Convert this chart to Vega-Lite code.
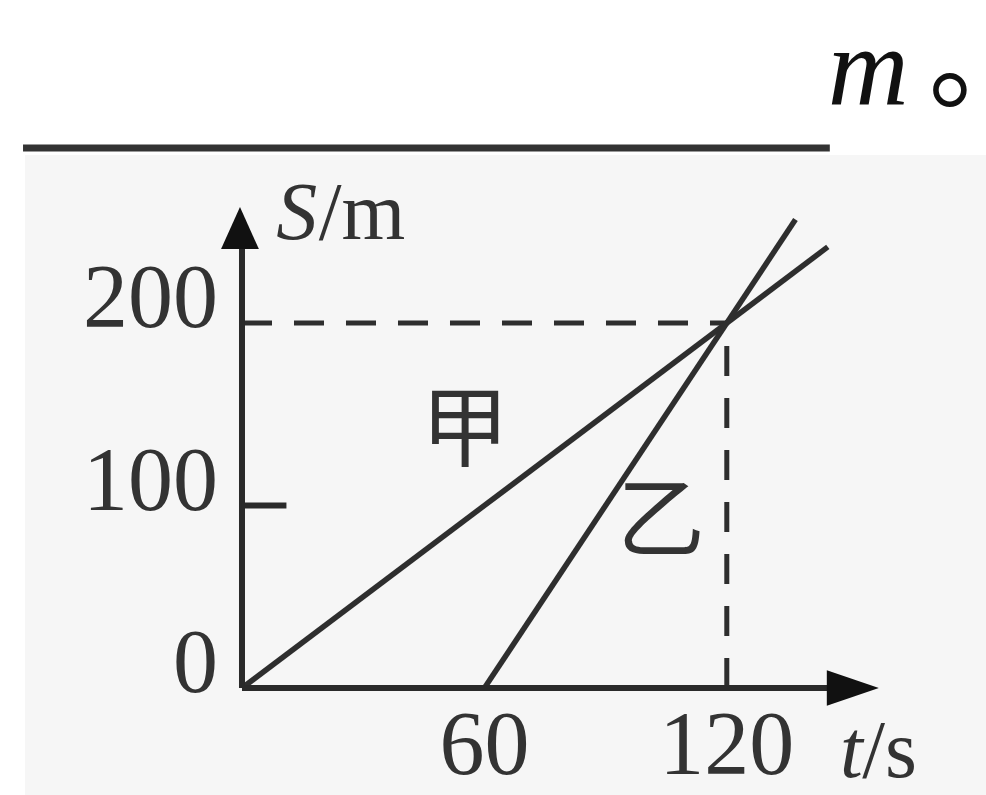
{
  "$schema": "https://vega.github.io/schema/vega-lite/v6.json",
  "width": 986,
  "height": 795,
  "padding": 0,
  "autosize": {"type": "none"},
  "background": "#ffffff",
  "config": {"view": {"stroke": null}},
  "datasets": {
    "motion": [
      {"series": "甲", "t": 0, "s": 0},
      {"series": "甲", "t": 145, "s": 241.7},
      {"series": "乙", "t": 60, "s": 0},
      {"series": "乙", "t": 137, "s": 256.7}
    ],
    "panel": [{"t0": -53.7, "t1": 184.2, "s0": -58.6, "s1": 292}],
    "blank": [{"t0": -54.2, "t1": 145.5, "s0": 295.9, "s1": 295.9}],
    "guides": [
      {"t0": 0, "t1": 120, "s0": 200, "s1": 200},
      {"t0": 120, "t1": 120, "s0": 0, "s1": 200}
    ],
    "frame": [
      {"t0": 0, "t1": 0, "s0": 0, "s1": 250},
      {"t0": 0, "t1": 150, "s0": 0, "s1": 0},
      {"t0": 0, "t1": 11, "s0": 100, "s1": 100}
    ],
    "arrowS": [{"t": -0.5, "s": 252}],
    "arrowT": [{"t": 151.2, "s": 0}],
    "sTicks": [{"s": 0, "t": 0, "label": "0"}, {"s": 100, "t": 0, "label": "100"}, {"s": 200, "t": 0, "label": "200"}],
    "tTicks": [{"t": 60, "s": 0, "label": "60"}, {"t": 120, "s": 0, "label": "120"}],
    "italicTitles": [
      {"label": "S", "t": 8.5, "s": 246},
      {"label": "t", "t": 148, "s": -49}
    ],
    "plainTitles": [
      {"label": "/m", "t": 19, "s": 246},
      {"label": "/s", "t": 153.5, "s": -49}
    ],
    "names": [
      {"label": "甲", "t": 55.2, "s": 139.5},
      {"label": "乙", "t": 103.7, "s": 90}
    ],
    "unitM": [{"label": "m", "t": 145, "s": 319.5}],
    "stop": [{"label": "。", "t": 169.9, "s": 322.2}]
  },
  "layer": [
    {
      "data": {"name": "panel"},
      "mark": {"type": "rect", "color": "#f6f6f6"},
      "encoding": {
        "x": {"field": "t0", "type": "quantitative", "axis": null, "scale": {"domain": [-59.9, 184.16], "nice": false, "zero": false}},
        "x2": {"field": "t1"},
        "y": {"field": "s0", "type": "quantitative", "axis": null, "scale": {"domain": [-58.63, 376.99], "nice": false, "zero": false}},
        "y2": {"field": "s1"}
      }
    },
    {
      "data": {"name": "blank"},
      "mark": {"type": "rule", "color": "#333333", "strokeWidth": 7},
      "encoding": {
        "x": {"field": "t0", "type": "quantitative", "axis": null, "scale": {"domain": [-59.9, 184.16], "nice": false, "zero": false}},
        "x2": {"field": "t1"},
        "y": {"field": "s0", "type": "quantitative", "axis": null, "scale": {"domain": [-58.63, 376.99], "nice": false, "zero": false}},
        "y2": {"field": "s1"}
      }
    },
    {
      "data": {"name": "unitM"},
      "mark": {"type": "text", "font": "Liberation Serif", "fontStyle": "italic", "fontSize": 112, "align": "left", "baseline": "alphabetic", "color": "#111111"},
      "encoding": {
        "x": {"field": "t", "type": "quantitative", "axis": null, "scale": {"domain": [-59.9, 184.16], "nice": false, "zero": false}},
        "y": {"field": "s", "type": "quantitative", "axis": null, "scale": {"domain": [-58.63, 376.99], "nice": false, "zero": false}},
        "text": {"field": "label", "type": "nominal"}
      }
    },
    {
      "data": {"name": "stop"},
      "mark": {"type": "text", "font": "Noto Sans CJK SC", "fontSize": 110, "align": "left", "baseline": "alphabetic", "color": "#111111"},
      "encoding": {
        "x": {"field": "t", "type": "quantitative", "axis": null, "scale": {"domain": [-59.9, 184.16], "nice": false, "zero": false}},
        "y": {"field": "s", "type": "quantitative", "axis": null, "scale": {"domain": [-58.63, 376.99], "nice": false, "zero": false}},
        "text": {"field": "label", "type": "nominal"}
      }
    },
    {
      "data": {"name": "guides"},
      "mark": {"type": "rule", "color": "#2e2e2e", "strokeWidth": 5, "strokeDash": [30, 22]},
      "encoding": {
        "x": {"field": "t0", "type": "quantitative", "axis": null, "scale": {"domain": [-59.9, 184.16], "nice": false, "zero": false}},
        "x2": {"field": "t1"},
        "y": {"field": "s0", "type": "quantitative", "axis": null, "scale": {"domain": [-58.63, 376.99], "nice": false, "zero": false}},
        "y2": {"field": "s1"}
      }
    },
    {
      "data": {"name": "motion"},
      "mark": {"type": "line", "color": "#2e2e2e", "strokeWidth": 5.5},
      "encoding": {
        "x": {"field": "t", "type": "quantitative", "axis": null, "scale": {"domain": [-59.9, 184.16], "nice": false, "zero": false}},
        "y": {"field": "s", "type": "quantitative", "axis": null, "scale": {"domain": [-58.63, 376.99], "nice": false, "zero": false}},
        "detail": {"field": "series", "type": "nominal"}
      }
    },
    {
      "data": {"name": "frame"},
      "mark": {"type": "rule", "color": "#2a2a2a", "strokeWidth": 6},
      "encoding": {
        "x": {"field": "t0", "type": "quantitative", "axis": null, "scale": {"domain": [-59.9, 184.16], "nice": false, "zero": false}},
        "x2": {"field": "t1"},
        "y": {"field": "s0", "type": "quantitative", "axis": null, "scale": {"domain": [-58.63, 376.99], "nice": false, "zero": false}},
        "y2": {"field": "s1"}
      }
    },
    {
      "data": {"name": "arrowS"},
      "mark": {"type": "point", "shape": "M0,-1L0.9,1L-0.9,1Z", "filled": true, "size": 1764, "color": "#111111", "opacity": 1},
      "encoding": {
        "x": {"field": "t", "type": "quantitative", "axis": null, "scale": {"domain": [-59.9, 184.16], "nice": false, "zero": false}},
        "y": {"field": "s", "type": "quantitative", "axis": null, "scale": {"domain": [-58.63, 376.99], "nice": false, "zero": false}}
      }
    },
    {
      "data": {"name": "arrowT"},
      "mark": {"type": "point", "shape": "M1,0L-1,-0.68L-1,0.68Z", "filled": true, "size": 2704, "color": "#111111", "opacity": 1},
      "encoding": {
        "x": {"field": "t", "type": "quantitative", "axis": null, "scale": {"domain": [-59.9, 184.16], "nice": false, "zero": false}},
        "y": {"field": "s", "type": "quantitative", "axis": null, "scale": {"domain": [-58.63, 376.99], "nice": false, "zero": false}}
      }
    },
    {
      "data": {"name": "sTicks"},
      "mark": {"type": "text", "font": "Liberation Serif", "fontSize": 90, "align": "right", "baseline": "alphabetic", "dx": -24, "dy": 4, "color": "#333333"},
      "encoding": {
        "x": {"field": "t", "type": "quantitative", "axis": null, "scale": {"domain": [-59.9, 184.16], "nice": false, "zero": false}},
        "y": {"field": "s", "type": "quantitative", "axis": null, "scale": {"domain": [-58.63, 376.99], "nice": false, "zero": false}},
        "text": {"field": "label", "type": "nominal"}
      }
    },
    {
      "data": {"name": "tTicks"},
      "mark": {"type": "text", "font": "Liberation Serif", "fontSize": 90, "align": "center", "baseline": "alphabetic", "dy": 86, "color": "#333333"},
      "encoding": {
        "x": {"field": "t", "type": "quantitative", "axis": null, "scale": {"domain": [-59.9, 184.16], "nice": false, "zero": false}},
        "y": {"field": "s", "type": "quantitative", "axis": null, "scale": {"domain": [-58.63, 376.99], "nice": false, "zero": false}},
        "text": {"field": "label", "type": "nominal"}
      }
    },
    {
      "data": {"name": "italicTitles"},
      "mark": {"type": "text", "font": "Liberation Serif", "fontStyle": "italic", "fontSize": 82, "align": "left", "baseline": "alphabetic", "color": "#333333"},
      "encoding": {
        "x": {"field": "t", "type": "quantitative", "axis": null, "scale": {"domain": [-59.9, 184.16], "nice": false, "zero": false}},
        "y": {"field": "s", "type": "quantitative", "axis": null, "scale": {"domain": [-58.63, 376.99], "nice": false, "zero": false}},
        "text": {"field": "label", "type": "nominal"}
      }
    },
    {
      "data": {"name": "plainTitles"},
      "mark": {"type": "text", "font": "Liberation Serif", "fontSize": 82, "align": "left", "baseline": "alphabetic", "color": "#333333"},
      "encoding": {
        "x": {"field": "t", "type": "quantitative", "axis": null, "scale": {"domain": [-59.9, 184.16], "nice": false, "zero": false}},
        "y": {"field": "s", "type": "quantitative", "axis": null, "scale": {"domain": [-58.63, 376.99], "nice": false, "zero": false}},
        "text": {"field": "label", "type": "nominal"}
      }
    },
    {
      "data": {"name": "names"},
      "mark": {"type": "text", "font": "Noto Sans CJK SC", "fontSize": 88, "align": "center", "baseline": "middle", "color": "#333333"},
      "encoding": {
        "x": {"field": "t", "type": "quantitative", "axis": null, "scale": {"domain": [-59.9, 184.16], "nice": false, "zero": false}},
        "y": {"field": "s", "type": "quantitative", "axis": null, "scale": {"domain": [-58.63, 376.99], "nice": false, "zero": false}},
        "text": {"field": "label", "type": "nominal"}
      }
    }
  ]
}
